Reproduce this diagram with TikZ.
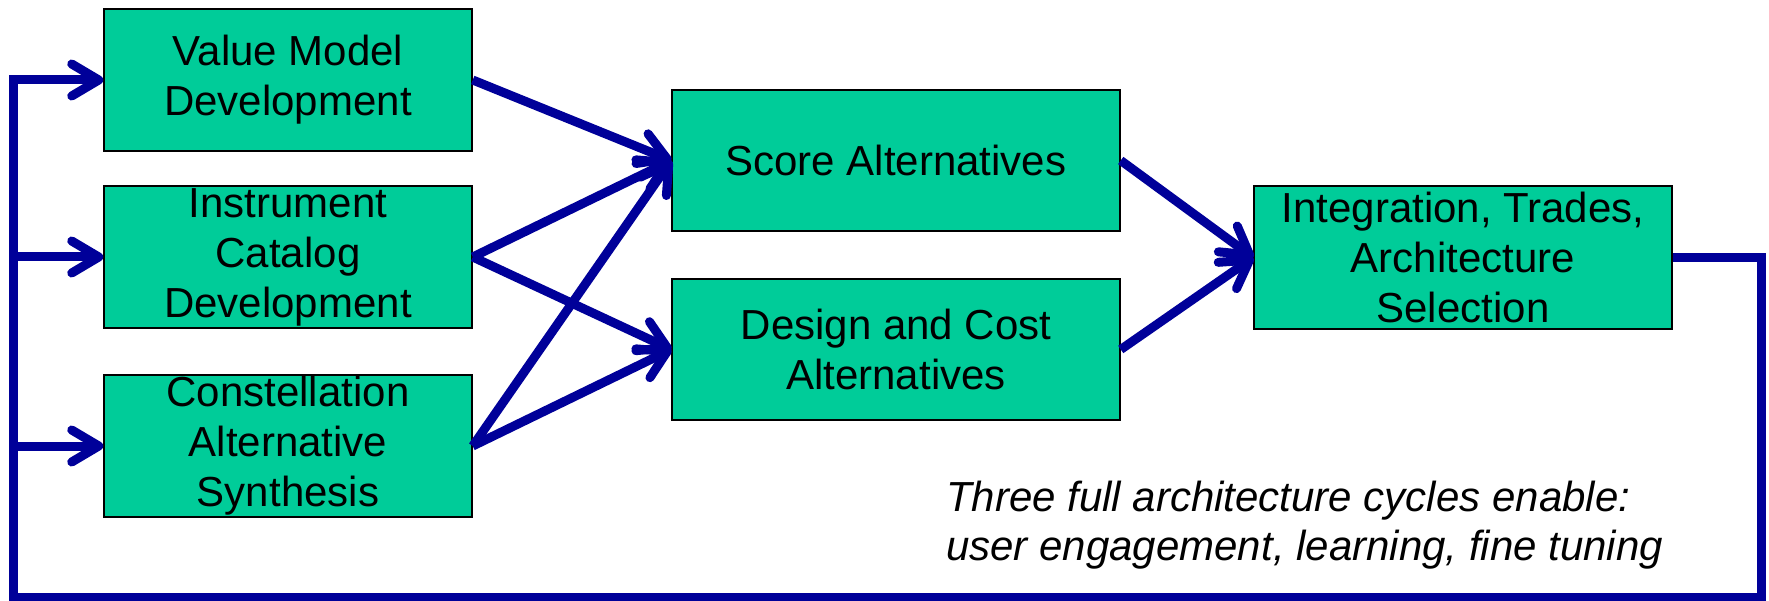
\documentclass[tikz,border=0pt]{standalone}
\usepackage{fontspec}
\setmainfont{Liberation Sans}
\usetikzlibrary{arrows.meta}
\definecolor{boxfill}{RGB}{0,204,153}
\definecolor{arrblue}{RGB}{0,0,153}
\begin{document}
\begin{tikzpicture}[x=1pt,y=-1pt,
  box/.style={draw=black, line width=1.5pt, fill=boxfill, inner sep=0pt, align=center,
    font=\fontsize{42}{50}\selectfont},
  arr/.style={draw=arrblue, line width=9pt, -{Straight Barb[length=27pt,width=32pt,round]}},
  note/.style={anchor=north west, inner sep=0pt, align=left,
    font=\fontsize{42}{49}\selectfont\itshape}]
\useasboundingbox (0,0) rectangle (1769,601);
\fill[white] (0,0) rectangle (1769,601);

\node[box, minimum width=368pt, minimum height=142pt] (vmd) at (288,80) {Value Model\\Development};
\node[box, minimum width=368pt, minimum height=142pt] (icd) at (288,257) {Instrument\\Catalog\\Development};
\node[box, minimum width=368pt, minimum height=142pt] (cas) at (288,446) {Constellation\\Alternative\\Synthesis};
\node[box, minimum width=448pt, minimum height=141pt] (score) at (896,160.5) {Score Alternatives};
\node[box, minimum width=448pt, minimum height=141pt] (design) at (896,349.5) {Design and Cost\\Alternatives};
\node[box, minimum width=418pt, minimum height=143pt] (integ) at (1463,257.5) {Integration, Trades,\\Architecture\\Selection};

\node[note] (txt) at (946,481) {Three full architecture cycles enable:\\user engagement, learning, fine tuning};

\draw[arr] (vmd.east) -- (score.west);
\draw[arr] (icd.east) -- (score.west);
\draw[arr] (icd.east) -- (design.west);
\draw[arr] (cas.east) -- (score.west);
\draw[arr] (cas.east) -- (design.west);
\draw[arr] (score.east) -- (integ.west);
\draw[arr] (design.east) -- (integ.west);

\coordinate (fbR) at (1761,597);
\coordinate (fbL) at (13,597);
\draw[arr] (integ.east) -| (fbR) -- (fbL) |- (vmd.west);
\draw[arr] (fbL |- icd.west) -- (icd.west);
\draw[arr] (fbL |- cas.west) -- (cas.west);
\end{tikzpicture}
\end{document}
